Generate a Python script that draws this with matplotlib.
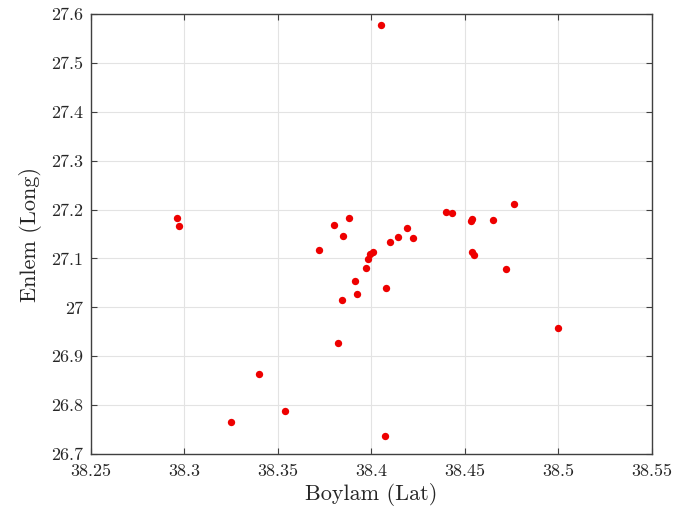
import matplotlib
matplotlib.use("Agg")
import matplotlib.pyplot as plt
from matplotlib.ticker import FormatStrFormatter

plt.rcParams['font.family'] = 'serif'
plt.rcParams['font.serif'] = ['cmr10']
plt.rcParams['mathtext.fontset'] = 'cm'
plt.rcParams['axes.formatter.use_mathtext'] = True

# longitude / latitude of the points
lat = [38.405, 38.296, 38.297, 38.380, 38.388, 38.385, 38.440, 38.443,
       38.453, 38.454, 38.465, 38.476, 38.419, 38.414, 38.422, 38.410,
       38.372, 38.399, 38.401, 38.398, 38.397, 38.391, 38.392, 38.384,
       38.408, 38.382, 38.340, 38.354, 38.325, 38.407, 38.454, 38.455,
       38.472, 38.500]
lon = [27.577, 27.182, 27.167, 27.168, 27.183, 27.145, 27.194, 27.192,
       27.177, 27.181, 27.179, 27.211, 27.162, 27.144, 27.141, 27.134,
       27.118, 27.110, 27.114, 27.098, 27.080, 27.054, 27.027, 27.016,
       27.039, 26.927, 26.864, 26.788, 26.766, 26.736, 27.114, 27.108,
       27.078, 26.958]

xticks = [38.25, 38.3, 38.35, 38.4, 38.45, 38.5, 38.55]
yticks = [26.7, 26.8, 26.9, 27.0, 27.1, 27.2, 27.3, 27.4, 27.5, 27.6]

fig = plt.figure(figsize=(6.75, 5.2), dpi=100)
ax = fig.add_axes([0.1348, 0.1269, 0.8311, 0.8462])

ax.scatter(lat, lon, s=28, color='#ee0000', zorder=3, linewidths=0)

ax.set_xlim(38.25, 38.55)
ax.set_ylim(26.7, 27.6)
ax.set_xticks(xticks)
ax.set_yticks(yticks)
ax.xaxis.set_major_formatter(FormatStrFormatter('%g'))
ax.yaxis.set_major_formatter(FormatStrFormatter('%g'))
ax.grid(True, color='#e3e3e3', linewidth=0.8)
ax.set_axisbelow(True)

ax.tick_params(direction='in', top=True, right=True, labelsize=13,
               color='#404040', length=4, labelcolor='#262626')
ax.tick_params(axis='x', pad=7)
ax.tick_params(axis='y', pad=6)
for sp in ax.spines.values():
    sp.set_color('#404040')
    sp.set_linewidth(1.0)

ax.set_xlabel('Boylam (Lat)', fontsize=16, labelpad=3, color='#262626')
ax.set_ylabel('Enlem (Long)', fontsize=16, labelpad=6, color='#262626')

fig.savefig('out.png', dpi=100)
